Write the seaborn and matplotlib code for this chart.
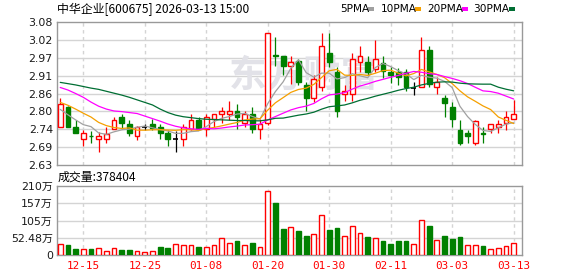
import numpy as np
import pandas as pd
import matplotlib
matplotlib.use("Agg")
import matplotlib.pyplot as plt
import seaborn as sns

# ---------------- data ----------------
dates = ["12-10", "12-11", "12-12", "12-15", "12-16", "12-17", "12-18", "12-19", "12-22", "12-23",
         "12-24", "12-25", "12-26", "12-29", "12-30", "12-31", "01-05", "01-06", "01-07", "01-08",
         "01-09", "01-12", "01-13", "01-14", "01-15", "01-16", "01-19", "01-20", "01-21", "01-22",
         "01-23", "01-26", "01-27", "01-28", "01-29", "01-30", "02-02", "02-03", "02-04", "02-05",
         "02-06", "02-09", "02-10", "02-11", "02-12", "02-13", "02-24", "02-25", "02-26", "02-27",
         "03-02", "03-03", "03-04", "03-05", "03-06", "03-09", "03-10", "03-11", "03-12", "03-13"]

opens = [2.751, 2.812, 2.749, 2.711, 2.722, 2.711, 2.711, 2.742, 2.780, 2.759,
         2.722, 2.749, 2.758, 2.749, 2.730, 2.711, 2.711, 2.742, 2.772, 2.742,
         2.774, 2.791, 2.791, 2.800, 2.761, 2.790, 2.742, 2.761, 2.975, 2.973,
         2.942, 2.957, 2.882, 2.842, 2.874, 2.983, 2.924, 2.853, 2.853, 2.955,
         2.955, 2.932, 2.952, 2.924, 2.924, 2.924, 2.873, 2.874, 2.992, 2.874,
         2.840, 2.812, 2.740, 2.730, 2.700, 2.731, 2.742, 2.751, 2.761, 2.774]
highs = [2.840, 2.815, 2.772, 2.740, 2.738, 2.735, 2.749, 2.780, 2.790, 2.772,
         2.753, 2.758, 2.774, 2.758, 2.740, 2.737, 2.758, 2.790, 2.780, 2.790,
         2.790, 2.812, 2.831, 2.821, 2.800, 2.812, 2.774, 3.044, 3.034, 2.973,
         2.973, 2.963, 2.892, 2.913, 3.044, 3.044, 2.939, 2.882, 2.981, 3.004,
         2.973, 3.023, 2.973, 2.939, 2.934, 2.931, 2.892, 3.034, 3.004, 2.906,
         2.850, 2.829, 2.772, 2.740, 2.772, 2.749, 2.758, 2.772, 2.801, 2.835]
lows = [2.751, 2.751, 2.732, 2.691, 2.700, 2.670, 2.700, 2.742, 2.742, 2.722,
        2.709, 2.740, 2.740, 2.711, 2.691, 2.670, 2.691, 2.740, 2.740, 2.722,
        2.749, 2.761, 2.772, 2.742, 2.751, 2.732, 2.711, 2.755, 2.942, 2.913,
        2.885, 2.882, 2.801, 2.829, 2.864, 2.937, 2.782, 2.832, 2.832, 2.924,
        2.913, 2.924, 2.903, 2.887, 2.882, 2.864, 2.850, 2.874, 2.874, 2.853,
        2.782, 2.751, 2.693, 2.700, 2.693, 2.700, 2.732, 2.732, 2.740, 2.774]
closes = [2.821, 2.751, 2.732, 2.730, 2.720, 2.721, 2.729, 2.772, 2.761, 2.732,
          2.749, 2.749, 2.745, 2.732, 2.711, 2.711, 2.749, 2.772, 2.742, 2.780,
          2.790, 2.800, 2.800, 2.782, 2.790, 2.742, 2.758, 3.044, 2.972, 2.942,
          2.955, 2.892, 2.842, 2.901, 3.005, 2.955, 2.801, 2.863, 2.962, 2.973,
          2.924, 2.962, 2.926, 2.913, 2.908, 2.874, 2.873, 2.992, 2.885, 2.892,
          2.824, 2.774, 2.700, 2.722, 2.769, 2.729, 2.758, 2.758, 2.780, 2.790]

volume_wan = [34.8, 29.7, 17.4, 19.5, 17.4, 22.5, 13.3, 22.5, 14.3, 14.3,
              13.3, 10.2, 13.3, 23.6, 20.5, 34.8, 31.7, 31.7, 23.6, 25.6,
              31.7, 50.2, 37.9, 42.0, 31.7, 35.8, 25.6, 194.6, 158.7, 78.8,
              85.0, 72.7, 57.3, 62.5, 120.8, 75.8, 81.9, 56.3, 87.0, 65.5,
              54.3, 53.2, 42.0, 32.8, 42.0, 42.0, 34.8, 105.5, 88.0, 47.1,
              57.3, 48.1, 54.3, 31.7, 29.7, 26.6, 19.5, 22.5, 28.7, 37.8404]
volume_up = [1, 0, 0, 1, 0, 1, 1, 1, 0, 0,
             1, 1, 1, 0, 0, 1, 1, 1, 0, 1,
             1, 1, 1, 0, 1, 0, 1, 1, 0, 0,
             1, 0, 0, 1, 1, 0, 0, 1, 1, 1,
             0, 1, 0, 0, 0, 0, 1, 1, 0, 1,
             0, 0, 0, 1, 1, 0, 1, 1, 1, 1]

# moving-average values before enough in-window closes exist
ma5_head = [2.805, 2.788, 2.772, 2.757]
ma10_head = [2.827, 2.818, 2.806, 2.793, 2.781, 2.764, 2.754, 2.748, 2.745]
ma20_head = [2.874, 2.866, 2.855, 2.843, 2.828, 2.815, 2.806, 2.800, 2.798, 2.795,
             2.792, 2.784, 2.776, 2.768, 2.759, 2.752, 2.747, 2.744, 2.742]
ma30_head = [2.890, 2.886, 2.882, 2.877, 2.872, 2.868, 2.862, 2.856, 2.850, 2.843,
             2.835, 2.827, 2.819, 2.806, 2.795, 2.787, 2.782, 2.779, 2.776, 2.774,
             2.773, 2.772, 2.771, 2.770, 2.770, 2.769, 2.769, 2.772, 2.777]

tick_dates = ["12-15", "12-25", "01-08", "01-20", "01-30", "02-11", "03-03", "03-13"]
price_ticks = [2.63, 2.686, 2.743, 2.799, 2.855, 2.911, 2.968, 3.024, 3.08]
price_tick_labels = ["2.63", "2.69", "2.74", "2.80", "2.86", "2.91", "2.97", "3.02", "3.08"]
vol_ticks = [0, 52.48, 104.96, 157.44, 209.92]
vol_tick_labels = ["0", "52.48万", "105万", "157万", "210万"]
ma_names = ["5PMA", "10PMA", "20PMA", "30PMA"]
ma_colors = ["#a0a0a0", "#f5a000", "#ff00ff", "#006e33"]
title = "中华企业[600675] 2026-03-13 15:00"
last_volume_text = "成交量:378404"

# ---------------- style ----------------
sns.set_theme(style="white")
plt.rcParams["font.family"] = ["DejaVu Sans", "Noto Sans CJK SC"]

RED = "#ff0000"
GREEN = "#008000"
GRID = "#d4d4d4"
SPINE = "#999999"

W, H = 578, 276
fig = plt.figure(figsize=(W / 100, H / 100), dpi=100)
fig.patch.set_facecolor("white")
ax = fig.add_axes([57 / W, (H - 165) / H, 465 / W, 143 / H])
axv = fig.add_axes([57 / W, (H - 255) / H, 465 / W, 69 / H])

n = len(closes)
x = np.arange(n)
o = np.array(opens); h = np.array(highs); l = np.array(lows); c = np.array(closes)

# moving averages
s = pd.Series(closes)
ma_series = []
for win, head in zip([5, 10, 20, 30], [ma5_head, ma10_head, ma20_head, ma30_head]):
    m = s.rolling(win).mean().to_numpy()
    m[:len(head)] = head
    ma_series.append(m)
ma_df = pd.DataFrame({
    "idx": np.tile(x, 4),
    "value": np.concatenate(ma_series),
    "line": np.repeat(ma_names, n),
})

tick_idx = [dates.index(d) for d in tick_dates]

# grids
for yv in price_ticks[1:-1]:
    ax.axhline(yv, color=GRID, lw=1.0, zorder=0)
for xv in tick_idx:
    ax.axvline(xv, color=GRID, lw=1.0, ls=(0, (2.5, 2.5)), zorder=0)
for yv in vol_ticks[1:-1]:
    axv.axhline(yv, color=GRID, lw=1.0, zorder=0)
for xv in tick_idx:
    axv.axvline(xv, color=GRID, lw=1.0, ls=(0, (2.5, 2.5)), zorder=0)

# watermark
ax.text(0.53, 0.62, "东方财富", transform=ax.transAxes, ha="center", va="center",
        fontsize=27, fontweight="bold", color="#e2e2e8", family=["Noto Sans CJK SC"], zorder=0.5)

# candles
bw = 0.62
for i in range(n):
    if c[i] > o[i]:
        col, face = RED, "white"
    elif c[i] < o[i]:
        col, face = GREEN, GREEN
    else:
        col, face = "black", "black"
    ax.vlines(x[i], l[i], h[i], color=col, lw=0.9, zorder=2)
    if c[i] == o[i]:
        ax.hlines(c[i], x[i] - bw / 2, x[i] + bw / 2, color=col, lw=1.2, zorder=3)
    else:
        bottom = min(o[i], c[i])
        height = abs(c[i] - o[i])
        ax.bar(x[i], height, bottom=bottom, width=bw, facecolor=face, edgecolor=col,
               linewidth=1.0, zorder=3)

# MA lines
sns.lineplot(data=ma_df, x="idx", y="value", hue="line", hue_order=ma_names,
             palette=dict(zip(ma_names, ma_colors)), estimator=None, linewidth=0.9,
             legend=False, ax=ax, zorder=4)

# volume bars
vol = np.array(volume_wan)
for i in range(n):
    if volume_up[i]:
        axv.bar(x[i], vol[i], width=bw, facecolor="white", edgecolor=RED, linewidth=1.0, zorder=3)
    else:
        axv.bar(x[i], vol[i], width=bw, facecolor=GREEN, edgecolor=GREEN, linewidth=1.0, zorder=3)

# axes cosmetics
for a in (ax, axv):
    a.set_xlim(-0.42, 60.08)
    for sp in a.spines.values():
        sp.set_color(SPINE)
        sp.set_linewidth(1.0)
    a.set_xlabel("")
    a.set_ylabel("")
    a.tick_params(axis="both", length=0)

ax.set_ylim(2.63, 3.08)
ax.set_yticks(price_ticks)
ax.set_yticklabels(price_tick_labels)
ax.tick_params(axis="y", labelsize=7.9, colors="#1a1a1a", pad=3)
ax.set_xticks([])

axv.set_ylim(0, 209.92)
axv.set_yticks(vol_ticks)
axv.set_yticklabels(vol_tick_labels)
axv.tick_params(axis="y", labelsize=7.9, colors="#1a1a1a", pad=3)
axv.set_xticks(tick_idx)
axv.set_xticklabels(tick_dates, family=["DejaVu Sans Mono"], fontsize=7.9, color=RED)
axv.tick_params(axis="x", pad=4)

# header
fig.text(57 / W, 1 - 9.5 / H, title, ha="left", va="center", fontsize=8.6,
         family=["Noto Sans CJK SC", "DejaVu Sans"], color="black")
legend_x = [340, 381, 427, 473]
for name, col, lx in zip(ma_names, ma_colors, legend_x):
    fig.text(lx / W, 1 - 9.5 / H, name, ha="left", va="center", fontsize=7.6,
             family=["DejaVu Sans"], color="black")
sq_x = [368, 415, 462, 509]
for col, sx in zip(ma_colors, sq_x):
    fig.patches.append(matplotlib.patches.Rectangle((sx / W, 1 - 11 / H), 6 / W, 4 / H,
                                                    transform=fig.transFigure, facecolor=col,
                                                    edgecolor="none"))

fig.text(58 / W, 1 - 177 / H, last_volume_text, ha="left", va="center", fontsize=8.6,
         family=["Noto Sans CJK SC", "DejaVu Sans"], color="black")

fig.savefig("out.png", dpi=100, facecolor="white")
